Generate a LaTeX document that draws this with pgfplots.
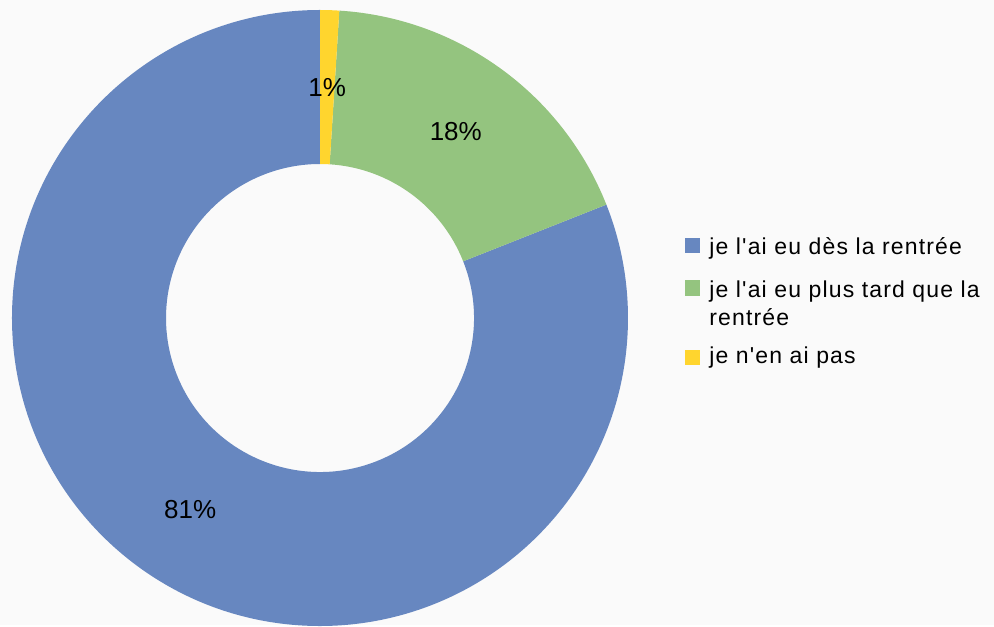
\documentclass[border=0pt]{standalone}
\usepackage{pgfplots}
\pgfplotsset{compat=1.18}
\usepackage{pgfplotstable}
\usepackage{fontspec}
\setmainfont{Liberation Sans}
\newfontfamily\legfont[LetterSpace=5]{Liberation Sans}
\newfontfamily\labfont{Liberation Sans}
\definecolor{cblue}{RGB}{103,135,192}
\definecolor{cgreen}{RGB}{148,196,127}
\definecolor{cyellow}{RGB}{255,213,46}
\definecolor{bg}{RGB}{250,250,250}

\pgfplotstableread{
value
81
18
1
}\datatable

\begin{document}
\begin{tikzpicture}
\begin{axis}[x=0.5bp,y=0.5bp,xmin=0,xmax=994,ymin=0,ymax=625,
  hide axis,clip=false,scale only axis]
\addplot[draw=none] coordinates {(0,0) (994,625)};
\pgfplotsextra{
  \fill[bg] (axis cs:0,0) rectangle (axis cs:994,625);
  \xdef\cum{90}
  \foreach \i/\col in {0/cblue,1/cgreen,2/cyellow}{%
    \pgfplotstablegetelem{\i}{value}\of\datatable
    \let\val\pgfplotsretval
    \pgfmathsetmacro\aa{\cum}
    \pgfmathsetmacro\bb{\cum+3.6*\val}
    \pgfmathsetmacro\mid{(\aa+\bb)/2}
    \fill[\col] (axis cs:320,307) ++(\aa:154bp) arc[start angle=\aa,end angle=\bb,radius=154bp]
       -- ++(\bb:-77bp) arc[start angle=\bb,end angle=\aa,radius=77bp] -- cycle;
    \path (axis cs:320,307) ++(\mid:115.5bp) node[font=\labfont\fontsize{13bp}{15bp}\selectfont,inner sep=0]{\val\%};
    \xdef\cum{\bb}
  }
  % legend
  \fill[cblue] (axis cs:685,372) rectangle (axis cs:700,387);
  \fill[cgreen] (axis cs:685,329) rectangle (axis cs:700,345);
  \fill[cyellow] (axis cs:685,260) rectangle (axis cs:700,275);
  \node[anchor=base west,inner sep=0,font=\legfont\fontsize{11.5bp}{14bp}\selectfont] at (axis cs:709,371) {je l'ai eu dès la rentrée};
  \node[anchor=base west,inner sep=0,font=\legfont\fontsize{11.5bp}{14bp}\selectfont] at (axis cs:709,328) {je l'ai eu plus tard que la};
  \node[anchor=base west,inner sep=0,font=\legfont\fontsize{11.5bp}{14bp}\selectfont] at (axis cs:709,300) {rentrée};
  \node[anchor=base west,inner sep=0,font=\legfont\fontsize{11.5bp}{14bp}\selectfont] at (axis cs:709,262) {je n'en ai pas};
}
\end{axis}
\end{tikzpicture}
\end{document}
